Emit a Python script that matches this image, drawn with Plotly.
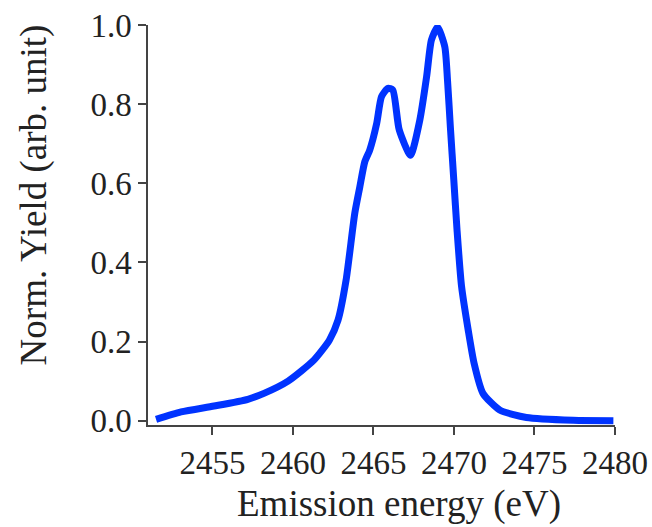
import plotly.graph_objects as go

energy = [2451.5, 2453.05, 2455.1, 2457.2, 2458.2, 2459.7, 2461.3, 2462.27, 2462.8,
          2463.3, 2463.84, 2464.15, 2464.46, 2464.77, 2465.2, 2465.5, 2465.9, 2466.2,
          2466.6, 2467.3, 2467.88, 2468.3, 2468.6, 2468.98, 2469.43, 2469.6, 2469.78,
          2469.99, 2470.19, 2470.47, 2470.9, 2471.25, 2471.8, 2472.84, 2474.5, 2477.4,
          2479.9]
yield_norm = [0.003, 0.022, 0.037, 0.054, 0.069, 0.10, 0.153, 0.204, 0.254,
              0.355, 0.524, 0.59, 0.654, 0.684, 0.751, 0.819, 0.84, 0.836,
              0.735, 0.671, 0.76, 0.869, 0.962, 0.995, 0.945, 0.86, 0.74,
              0.608, 0.482, 0.34, 0.225, 0.145, 0.069, 0.027, 0.008, 0.001,
              0.0]

x_ticks = [2455, 2460, 2465, 2470, 2475, 2480]
y_ticks = [0.0, 0.2, 0.4, 0.6, 0.8, 1.0]

font_family = "Liberation Serif"
axis_color = "#444444"
text_color = "#222222"

fig = go.Figure()
fig.add_trace(go.Scatter(
    x=energy, y=yield_norm, mode="lines",
    line=dict(color="#0033ff", width=7, shape="spline", smoothing=0.6),
    cliponaxis=False, showlegend=False,
))

fig.update_layout(
    width=652, height=527,
    margin=dict(l=148, r=37, t=25, b=102, autoexpand=False),
    plot_bgcolor="white", paper_bgcolor="white",
    font=dict(family=font_family, size=33, color=text_color),
    xaxis=dict(
        range=[2451, 2480], tickvals=x_ticks, ticktext=[str(t) for t in x_ticks],
        showline=True, linecolor=axis_color, linewidth=1.5,
        ticks="outside", ticklen=8, tickcolor=axis_color, tickwidth=1.5,
        showgrid=False, zeroline=False, ticklabeloverflow="allow",
        automargin=False,
    ),
    yaxis=dict(
        range=[-0.011, 1.0], tickvals=y_ticks, ticktext=["%.1f" % t for t in y_ticks],
        showline=True, linecolor=axis_color, linewidth=1.5,
        ticks="outside", ticklen=8, tickcolor=axis_color, tickwidth=1.5,
        showgrid=False, zeroline=False, ticklabeloverflow="allow",
        automargin=False,
    ),
    annotations=[
        dict(text="Emission energy (eV)", xref="paper", yref="paper",
             x=0.538, y=0, xanchor="center", yanchor="middle", yshift=-79,
             showarrow=False, font=dict(size=37, family=font_family, color=text_color)),
        dict(text="Norm. Yield (arb. unit)", xref="paper", yref="paper",
             x=0, y=0.574, xanchor="center", yanchor="middle", xshift=-114,
             textangle=-90, showarrow=False,
             font=dict(size=37, family=font_family, color=text_color)),
    ],
)

# remove the default 8px page margin so the figure fills the window exactly
fig.write_html("out.html", config={"displayModeBar": False},
               post_script="document.body.style.margin='0';document.body.style.overflow='hidden';")
